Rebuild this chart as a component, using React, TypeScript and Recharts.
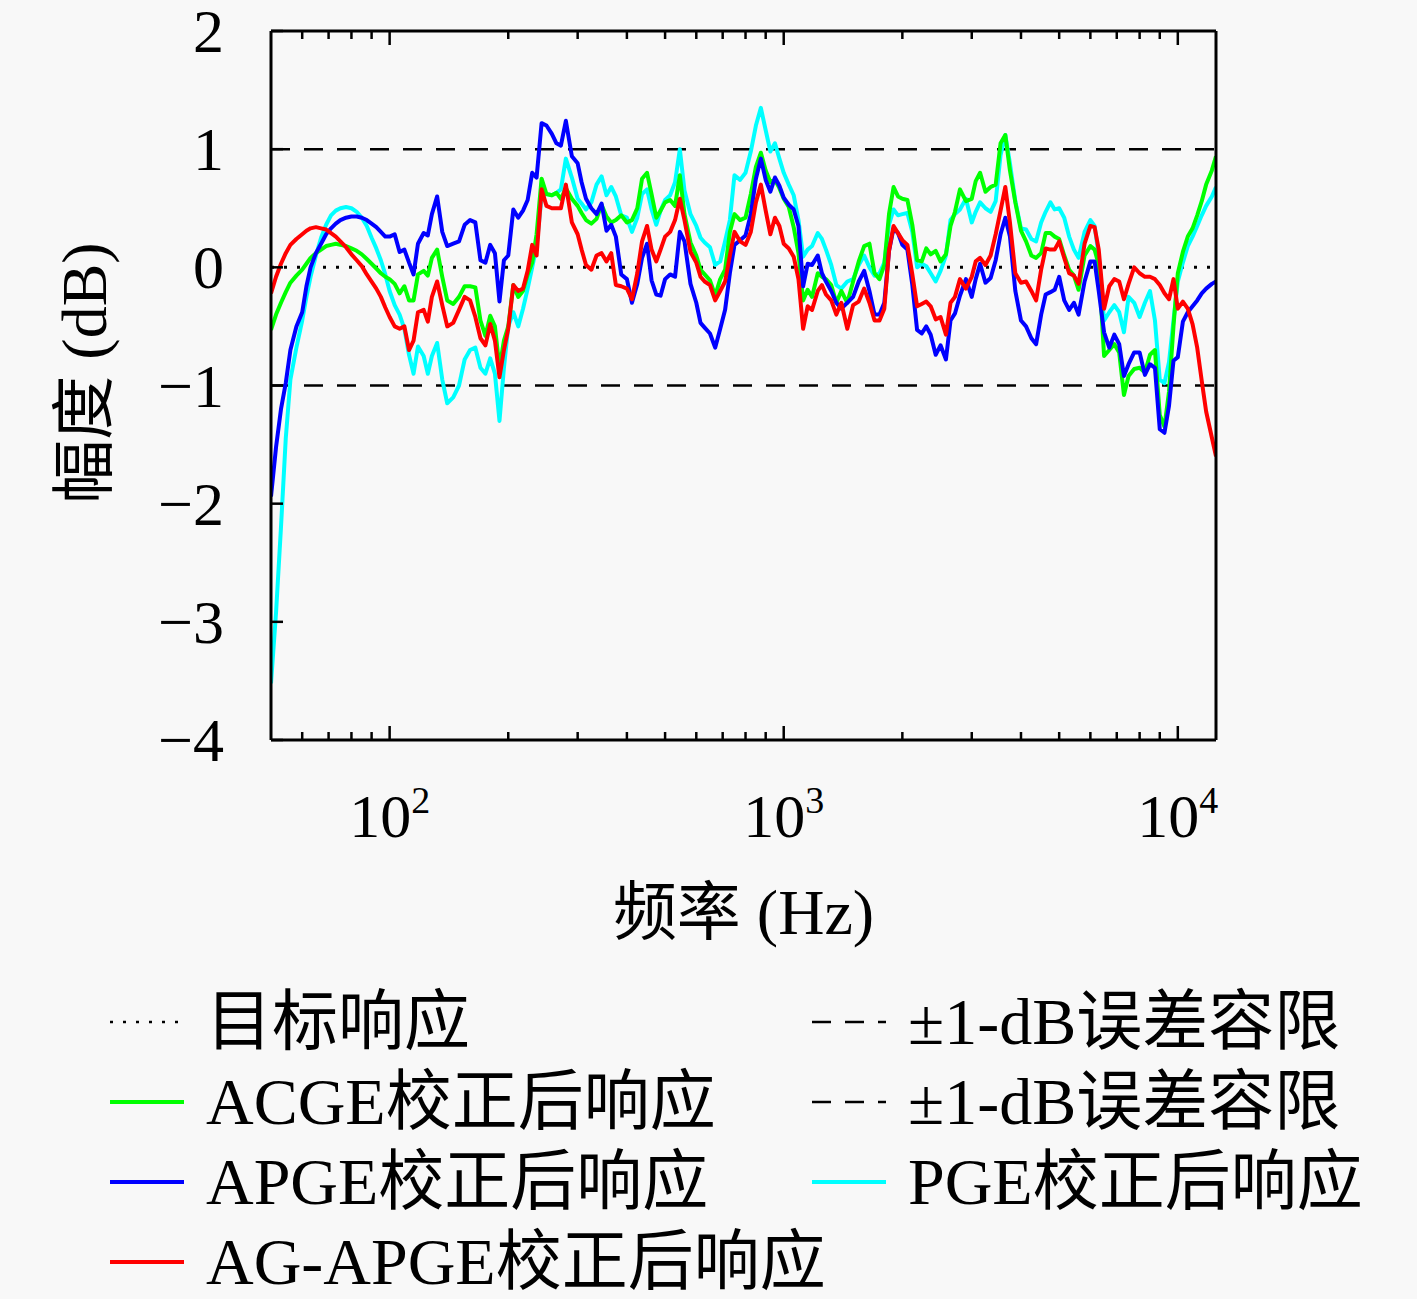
import React from 'react'
import { LineChart, Line, XAxis, YAxis, ReferenceLine } from 'recharts'

const FONT = "'Liberation Serif', 'Noto Sans CJK SC', serif"

// 频率点 (Hz)
const freqHz = [
  50, 51.5, 53, 54.5, 56, 58, 60, 61.5, 63, 65, 67, 69,
  71, 73, 75, 77.5, 80, 82.5, 85, 87.5, 90, 92.5, 95, 97.5,
  100, 103, 106, 109, 112, 115, 118, 122, 125, 128, 132, 136,
  140, 145, 150, 155, 160, 165, 170, 175, 180, 185, 190, 195,
  200, 206, 212, 218, 224, 230, 236, 243, 250, 258, 265, 272,
  280, 290, 300, 307, 315, 325, 335, 345, 355, 365, 375, 387,
  400, 412, 425, 437, 450, 462, 475, 487, 500, 515, 530, 545,
  560, 580, 600, 615, 630, 650, 670, 690, 710, 730, 750, 775,
  800, 825, 850, 875, 900, 925, 950, 975,
  1000, 1030, 1060, 1090, 1120, 1150, 1180, 1220, 1250, 1280, 1320, 1360,
  1400, 1450, 1500, 1550, 1600, 1650, 1700, 1750, 1800, 1850, 1900, 1950,
  2000, 2060, 2120, 2180, 2240, 2300, 2360, 2430, 2500, 2580, 2650, 2720,
  2800, 2900, 3000, 3070, 3150, 3250, 3350, 3450, 3550, 3650, 3750, 3870,
  4000, 4120, 4250, 4370, 4500, 4620, 4750, 4870, 5000, 5150, 5300, 5450,
  5600, 5800, 6000, 6150, 6300, 6500, 6700, 6900, 7100, 7300, 7500, 7750,
  8000, 8250, 8500, 8750, 9000, 9250, 9500, 9750,
  10000, 10300, 10600, 10900, 11200, 11500, 11800, 12200, 12500,
]

// ACGE 校正后响应 (dB)
const acgeDb = [
  -0.53, -0.4, -0.3, -0.21, -0.13, -0.07, -0.02, 0.03, 0.08, 0.12, 0.15, 0.18,
  0.19, 0.2, 0.19, 0.18, 0.16, 0.14, 0.11, 0.07, 0.03, -0.01, -0.05, -0.08,
  -0.1, -0.14, -0.22, -0.16, -0.28, -0.28, -0.06, -0.03, -0.07, 0.08, 0.15, -0.08,
  -0.28, -0.31, -0.25, -0.16, -0.16, -0.17, -0.45, -0.58, -0.41, -0.5, -0.85, -0.62,
  -0.5, -0.15, -0.25, -0.2, -0.06, 0.04, 0.28, 0.75, 0.62, 0.61, 0.63, 0.58,
  0.67, 0.58, 0.52, 0.46, 0.4, 0.37, 0.41, 0.53, 0.43, 0.38, 0.4, 0.44,
  0.38, 0.4, 0.5, 0.75, 0.8, 0.62, 0.42, 0.48, 0.55, 0.57, 0.52, 0.78,
  0.45, 0.21, 0.1, -0.02, -0.06, -0.11, -0.24, -0.1, -0.02, 0.3, 0.45, 0.4,
  0.42, 0.62, 0.85, 0.97, 0.82, 0.72, 0.74, 0.67,
  0.58, 0.51, 0.34, 0.12, -0.28, -0.19, -0.25, -0.05, -0.08, -0.1, -0.15, -0.3,
  -0.2, -0.3, -0.12, 0.05, 0.18, 0.2, -0.05, -0.1, 0.02, 0.45, 0.68, 0.6,
  0.58, 0.57, 0.36, 0.06, 0.05, 0.16, 0.11, 0.14, 0.05, 0.11, 0.35, 0.47,
  0.66, 0.56, 0.58, 0.73, 0.8, 0.64, 0.68, 0.7, 1.05, 1.12, 0.82, 0.55,
  0.31, 0.22, 0.1, 0.08, 0.12, 0.29, 0.29, 0.26, 0.24, 0.1, -0.02, -0.07,
  -0.19, 0.1, 0.18, 0.15, 0.02, -0.75, -0.7, -0.65, -0.72, -1.08, -0.92, -0.86,
  -0.85, -0.89, -0.74, -0.7, -1.25, -1.35, -1.05, -0.5,
  -0.05, 0.13, 0.26, 0.33, 0.44, 0.56, 0.7, 0.82, 0.94,
]

// APGE 校正后响应 (dB)
const apgeDb = [
  -1.94, -1.52, -1.2, -0.98, -0.7, -0.5, -0.38, -0.16, 0.0, 0.12, 0.2, 0.28,
  0.33, 0.37, 0.4, 0.42, 0.43, 0.43, 0.42, 0.4, 0.37, 0.34, 0.3, 0.26,
  0.26, 0.28, 0.13, 0.15, 0.04, -0.06, 0.2, 0.29, 0.27, 0.45, 0.6, 0.3,
  0.18, 0.2, 0.22, 0.36, 0.4, 0.38, 0.06, 0.04, 0.19, 0.12, -0.29, 0.06,
  0.1, 0.49, 0.42, 0.48, 0.57, 0.8, 0.76, 1.22, 1.2, 1.13, 1.05, 1.03,
  1.24, 0.94, 0.88, 0.72, 0.58, 0.5, 0.45, 0.54, 0.31, 0.36, 0.26, -0.06,
  -0.1, -0.3, -0.14, 0.08, 0.2, -0.11, -0.23, -0.24, -0.1, -0.06, -0.08, 0.3,
  0.22, -0.14, -0.3, -0.47, -0.51, -0.56, -0.68, -0.52, -0.36, -0.05, 0.19, 0.23,
  0.27, 0.45, 0.75, 0.92, 0.74, 0.64, 0.76, 0.69,
  0.59, 0.53, 0.49, 0.35, -0.16, 0.03, 0.02, 0.1, -0.05, -0.12, -0.2, -0.3,
  -0.35, -0.3, -0.25, -0.12, -0.03, -0.2, -0.4, -0.4, -0.3, 0.14, 0.33, 0.29,
  0.19, 0.15, -0.15, -0.53, -0.56, -0.5, -0.57, -0.74, -0.66, -0.78, -0.45, -0.39,
  -0.24, -0.1, -0.25, -0.1, 0.03, -0.13, -0.09, 0.06, 0.28, 0.42, 0.26, -0.2,
  -0.45, -0.5, -0.6, -0.65, -0.4, -0.23, -0.21, -0.19, -0.08, -0.28, -0.36, -0.3,
  -0.4, -0.12, 0.05, 0.05, -0.2, -0.55, -0.68, -0.57, -0.65, -0.92, -0.82, -0.72,
  -0.72, -0.91, -0.82, -0.85, -1.37, -1.4, -1.17, -0.79,
  -0.76, -0.46, -0.38, -0.33, -0.28, -0.22, -0.18, -0.14, -0.12,
]

// AG-APGE 校正后响应 (dB)
const agApgeDb = [
  -0.22, -0.08, 0.03, 0.12, 0.19, 0.24, 0.28, 0.31, 0.33, 0.34, 0.33, 0.32,
  0.29, 0.26, 0.22, 0.17, 0.11, 0.06, 0.01, -0.06, -0.12, -0.18, -0.25, -0.34,
  -0.42, -0.5, -0.52, -0.5, -0.7, -0.62, -0.38, -0.36, -0.46, -0.25, -0.12, -0.32,
  -0.5, -0.47, -0.36, -0.25, -0.28, -0.42, -0.6, -0.66, -0.48, -0.62, -0.93, -0.7,
  -0.52, -0.15, -0.2, -0.18, -0.03, 0.19, 0.1, 0.66, 0.52, 0.5, 0.5, 0.5,
  0.7, 0.38, 0.28, 0.15, 0.02, -0.02, 0.1, 0.12, 0.05, 0.12, -0.15, -0.16,
  -0.18, -0.27, -0.05, 0.22, 0.35, 0.15, 0.05, 0.15, 0.26, 0.3, 0.4, 0.58,
  0.4, 0.13, 0.04, -0.08, -0.12, -0.15, -0.28, -0.2, -0.12, 0.1, 0.3, 0.22,
  0.19, 0.3, 0.55, 0.7, 0.48, 0.28, 0.42, 0.35,
  0.2, 0.16, 0.09, -0.1, -0.52, -0.33, -0.36, -0.2, -0.15, -0.23, -0.28, -0.4,
  -0.3, -0.52, -0.32, -0.29, -0.18, -0.3, -0.45, -0.45, -0.35, 0.14, 0.35, 0.29,
  0.23, 0.19, -0.06, -0.33, -0.31, -0.29, -0.33, -0.44, -0.42, -0.57, -0.3, -0.25,
  -0.1, -0.18, -0.08, 0.05, 0.08, 0.02, 0.1, 0.28, 0.48, 0.68, 0.38, -0.05,
  -0.13, -0.12, -0.2, -0.28, -0.02, 0.16, 0.15, 0.15, 0.22, 0.08, -0.05, -0.07,
  -0.14, 0.2, 0.35, 0.34, 0.15, -0.35, -0.16, -0.1, -0.12, -0.27, -0.14, 0.0,
  -0.05, -0.08, -0.08, -0.1, -0.15, -0.22, -0.27, -0.1,
  -0.35, -0.29, -0.35, -0.48, -0.68, -0.96, -1.22, -1.44, -1.6,
]

// PGE 校正后响应 (dB)
const pgeDb = [
  -3.52, -2.92, -2.2, -1.45, -0.95, -0.68, -0.45, -0.25, -0.08, 0.1, 0.25, 0.36,
  0.44, 0.48, 0.5, 0.51, 0.5, 0.47, 0.42, 0.35, 0.25, 0.16, 0.06, -0.06,
  -0.2, -0.32, -0.4, -0.52, -0.74, -0.9, -0.67, -0.75, -0.9, -0.75, -0.64, -0.95,
  -1.15, -1.1, -1.0, -0.78, -0.7, -0.68, -0.85, -0.9, -0.77, -0.9, -1.3, -0.85,
  -0.5, -0.38, -0.5, -0.35, -0.18, 0.0, 0.18, 0.6, 0.62, 0.61, 0.63, 0.66,
  0.92, 0.76, 0.58, 0.54, 0.49, 0.55, 0.7, 0.77, 0.61, 0.68, 0.6, 0.44,
  0.42, 0.3, 0.42, 0.62, 0.66, 0.49, 0.36, 0.48, 0.57, 0.61, 0.72, 1.0,
  0.65, 0.45, 0.35, 0.25, 0.21, 0.17, 0.02, 0.05, 0.22, 0.4, 0.78, 0.74,
  0.8, 0.98, 1.2, 1.35, 1.16, 0.98, 1.05, 0.92,
  0.8, 0.7, 0.61, 0.4, 0.09, 0.15, 0.18, 0.29, 0.24, 0.15, 0.02, -0.15,
  -0.18, -0.12, -0.1, 0.02, 0.1, 0.0, -0.07, -0.05, 0.04, 0.36, 0.49, 0.44,
  0.45, 0.46, 0.3, 0.0, 0.03, 0.01, -0.05, -0.12, -0.03, 0.1, 0.4, 0.45,
  0.49, 0.58, 0.38, 0.47, 0.55, 0.5, 0.47, 0.56, 0.95, 1.12, 0.88, 0.56,
  0.33, 0.32, 0.24, 0.22, 0.38, 0.47, 0.55, 0.49, 0.5, 0.42, 0.26, 0.15,
  0.08, 0.3, 0.4, 0.35, 0.1, -0.45, -0.38, -0.32, -0.38, -0.55, -0.25, -0.3,
  -0.42, -0.3, -0.2, -0.45, -0.95, -0.98, -0.8, -0.45,
  -0.12, 0.04, 0.18, 0.26, 0.35, 0.44, 0.52, 0.6, 0.68,
]

const xTicks = [
  60, 70, 80, 90, 100, 200, 300, 400, 500, 600, 700, 800, 900,
  1000, 2000, 3000, 4000, 5000, 6000, 7000, 8000, 9000, 10000,
]
const xDecades = [100, 1000, 10000]
const yTicks = [-4, -3, -2, -1, 0, 1, 2]
const tolerance = [-1, 1]

const DOTTED = '3 10'
const DASHED = '19 14'

// 画线顺序：PGE 在最下，AG-APGE 在最上
const series = [
  { key: 'pge', color: '#00ffff' },
  { key: 'acge', color: '#00ff00' },
  { key: 'apge', color: '#0000ff' },
  { key: 'agApge', color: '#ff0000' },
]

const legendLeft = [
  { label: '目标响应', color: '#000', dash: DOTTED, width: 2.5 },
  { label: 'ACGE校正后响应', color: '#00ff00', dash: undefined, width: 4 },
  { label: 'APGE校正后响应', color: '#0000ff', dash: undefined, width: 4 },
  { label: 'AG-APGE校正后响应', color: '#ff0000', dash: undefined, width: 4 },
]
const legendRight = [
  { label: '±1-dB误差容限', color: '#000', dash: DASHED, width: 2.5 },
  { label: '±1-dB误差容限', color: '#000', dash: DASHED, width: 2.5 },
  { label: 'PGE校正后响应', color: '#00ffff', dash: undefined, width: 4 },
]

const rows = freqHz.map((f, i) => ({
  f,
  acge: acgeDb[i],
  apge: apgeDb[i],
  agApge: agApgeDb[i],
  pge: pgeDb[i],
}))

function fmtY(v: number) {
  return v < 0 ? `\u2212${-v}` : `${v}`
}

function BottomTick(props: any) {
  const { x, y, payload } = props
  const v = payload.value as number
  const major = xDecades.includes(v)
  const len = major ? 14 : 8
  return (
    <g>
      <line x1={x} x2={x} y1={y} y2={y - len} stroke="#000" strokeWidth={2.5} />
      {major && (
        <text x={x} y={y + 97} textAnchor="middle" fontFamily={FONT} fontSize={62} fill="#000">
          10
          <tspan dy={-24} fontSize={38}>
            {Math.round(Math.log10(v))}
          </tspan>
        </text>
      )}
    </g>
  )
}

function TopTick(props: any) {
  const { x, y, payload } = props
  const len = xDecades.includes(payload.value) ? 14 : 8
  return <line x1={x} x2={x} y1={y} y2={y + len} stroke="#000" strokeWidth={2.5} />
}

function LeftTick(props: any) {
  const { x, y, payload } = props
  return (
    <g>
      <line x1={x} x2={x + 12} y1={y} y2={y} stroke="#000" strokeWidth={2.5} />
      <text x={x - 47} y={y} dy="0.34em" textAnchor="end" fontFamily={FONT} fontSize={62} fill="#000">
        {fmtY(payload.value)}
      </text>
    </g>
  )
}

function RightTick(props: any) {
  const { x, y } = props
  return <line x1={x} x2={x - 12} y1={y} y2={y} stroke="#000" strokeWidth={2.5} />
}

function LegendItem({ item, left, top }: { item: any; left: number; top: number }) {
  return (
    <div
      style={{
        position: 'absolute',
        left,
        top: top - 40,
        height: 80,
        display: 'flex',
        alignItems: 'center',
        whiteSpace: 'nowrap',
      }}
    >
      <svg width={74} height={10} style={{ marginRight: 22 }}>
        <line
          x1={0}
          x2={74}
          y1={5}
          y2={5}
          stroke={item.color}
          strokeWidth={item.width}
          strokeDasharray={item.dash}
        />
      </svg>
      <span style={{ fontFamily: FONT, fontSize: 66, color: '#000', lineHeight: '80px' }}>
        {item.label}
      </span>
    </div>
  )
}

export default function App() {
  const axisLine = { stroke: '#000', strokeWidth: 3 }
  return (
    <div
      style={{
        position: 'absolute',
        left: 0,
        top: 0,
        width: 1417,
        height: 1299,
        background: '#f8f8f8',
        overflow: 'hidden',
      }}
    >
      <LineChart
        width={1417}
        height={1000}
        data={rows}
        margin={{ top: 30, right: 200, bottom: 259, left: 270 }}
      >
        <XAxis
          dataKey="f"
          type="number"
          scale="log"
          domain={[50, 12500]}
          allowDataOverflow
          ticks={xTicks}
          interval={0}
          height={1}
          tickSize={0}
          tickMargin={0}
          tickLine={false}
          axisLine={axisLine}
          tick={BottomTick}
          label={{
            content: (p: any) => {
              const vb = p.viewBox || { x: 271, y: 740, width: 945 }
              return (
                <text
                  x={vb.x + vb.width / 2}
                  y={vb.y + 194}
                  textAnchor="middle"
                  fontFamily={FONT}
                  fontSize={64}
                  fill="#000"
                >
                  频率 (Hz)
                </text>
              )
            },
          }}
        />
        <XAxis
          xAxisId="top"
          orientation="top"
          dataKey="f"
          type="number"
          scale="log"
          domain={[50, 12500]}
          allowDataOverflow
          ticks={xTicks}
          interval={0}
          height={1}
          tickSize={0}
          tickMargin={0}
          tickLine={false}
          axisLine={axisLine}
          tick={TopTick}
        />
        <YAxis
          type="number"
          domain={[-4, 2]}
          ticks={yTicks}
          interval={0}
          width={1}
          tickSize={0}
          tickMargin={0}
          tickLine={false}
          axisLine={axisLine}
          tick={LeftTick}
          label={{
            content: (p: any) => {
              const vb = p.viewBox || { x: 270, y: 31, height: 709 }
              const cx = vb.x - 186
              const cy = vb.y + 342
              return (
                <text
                  x={cx}
                  y={cy}
                  transform={`rotate(-90 ${cx} ${cy})`}
                  textAnchor="middle"
                  dominantBaseline="central"
                  fontFamily={FONT}
                  fontSize={64}
                  fill="#000"
                >
                  幅度 (dB)
                </text>
              )
            },
          }}
        />
        <YAxis
          yAxisId="right"
          orientation="right"
          type="number"
          domain={[-4, 2]}
          ticks={yTicks}
          interval={0}
          width={1}
          tickSize={0}
          tickMargin={0}
          tickLine={false}
          axisLine={axisLine}
          tick={RightTick}
        />
        <ReferenceLine y={0} stroke="#000" strokeWidth={3} strokeDasharray={DOTTED} />
        {tolerance.map((t) => (
          <ReferenceLine key={t} y={t} stroke="#000" strokeWidth={2.5} strokeDasharray={DASHED} />
        ))}
        {series.map((s) => (
          <Line
            key={s.key}
            type="linear"
            dataKey={s.key}
            stroke={s.color}
            strokeWidth={4}
            strokeLinejoin="round"
            dot={false}
            activeDot={false}
            isAnimationActive={false}
          />
        ))}
      </LineChart>
      {legendLeft.map((item, i) => (
        <LegendItem key={`l${i}`} item={item} left={110} top={1022 + i * 80} />
      ))}
      {legendRight.map((item, i) => (
        <LegendItem key={`r${i}`} item={item} left={812} top={1022 + i * 80} />
      ))}
    </div>
  )
}
